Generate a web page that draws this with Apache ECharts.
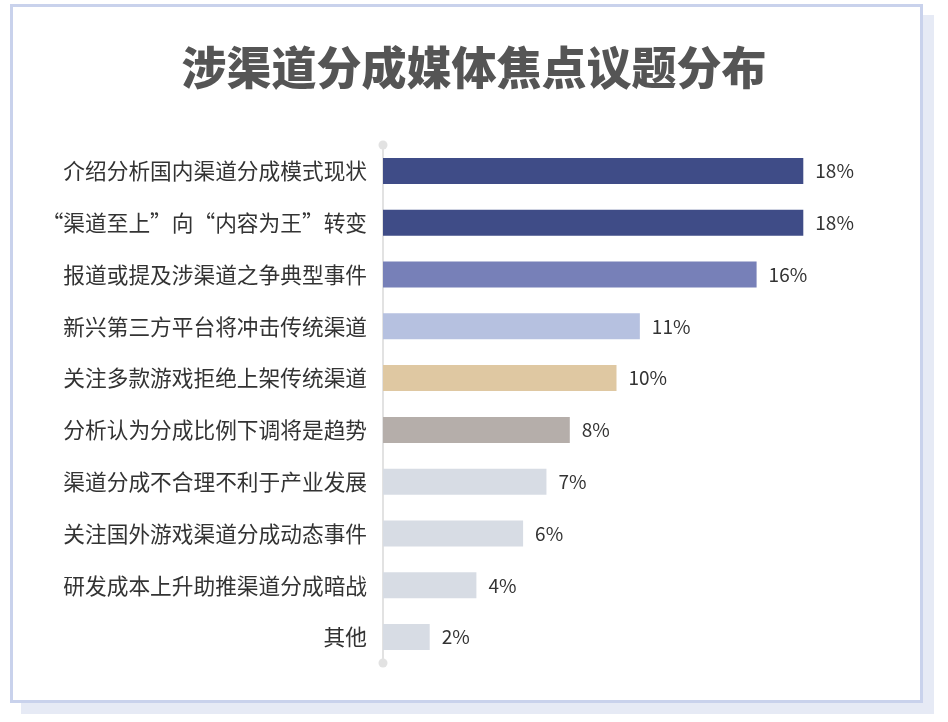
<!DOCTYPE html>
<html>
<head>
<meta charset="utf-8">
<script src="https://cdn.jsdelivr.net/npm/echarts@6/dist/echarts.min.js"></script>
<style>
  html, body { margin: 0; padding: 0; background: #fff; }
  #frame {
    position: absolute; left: 10px; top: 4px; width: 907px; height: 693px;
    border: 3px solid #c9d2ec; box-shadow: 11px 11px 0 #e6eaf5; background: #fff;
  }
  #chart { position: absolute; left: 0; top: 0; width: 948px; height: 722px; }
</style>
</head>
<body>
<div id="frame"></div>
<div id="chart"></div>
<script>
// data
var categories = [
  "介绍分析国内渠道分成模式现状",
  "“渠道至上”向“内容为王”转变",
  "报道或提及涉渠道之争典型事件",
  "新兴第三方平台将冲击传统渠道",
  "关注多款游戏拒绝上架传统渠道",
  "分析认为分成比例下调将是趋势",
  "渠道分成不合理不利于产业发展",
  "关注国外游戏渠道分成动态事件",
  "研发成本上升助推渠道分成暗战",
  "其他"
];
var values = [18, 18, 16, 11, 10, 8, 7, 6, 4, 2];

// colours, one per bar
var barColors = [
  "#3f4c87", "#3f4c87", "#7780b8", "#b6c1e0", "#dfc8a2",
  "#b5aeaa", "#d7dce4", "#d7dce4", "#d7dce4", "#d7dce4"
];

var myChart = echarts.init(document.getElementById('chart'));
option = {
  backgroundColor: "transparent",
  textStyle: { fontFamily: "Noto Sans CJK SC" },
  title: {
    text: "涉渠道分成媒体焦点议题分布",
    left: "center",
    top: 40,
    textStyle: {
      fontSize: 45,
      fontWeight: 900,
      color: "#555555",
      fontFamily: "Noto Sans CJK SC"
    }
  },
  grid: {
    left: 383,
    right: 98,
    top: 145,
    bottom: 59,
    containLabel: false
  },
  xAxis: {
    type: "value",
    min: 0,
    max: 20,
    show: false
  },
  yAxis: {
    type: "category",
    inverse: true,
    data: categories,
    axisLine: {
      show: true,
      symbol: ["circle", "circle"],
      symbolSize: [9, 9],
      lineStyle: { color: "#e2e2e2", width: 2 }
    },
    axisTick: { show: false },
    axisLabel: {
      margin: 16,
      fontSize: 21.7,
      color: "#333333",
      fontFamily: "Noto Sans CJK SC"
    }
  },
  series: [
    {
      type: "bar",
      data: values,
      barWidth: 26,
      itemStyle: {
        color: function (p) { return barColors[p.dataIndex]; }
      },
      label: {
        show: true,
        position: "right",
        distance: 12,
        formatter: "{c}%",
        fontSize: 19,
        color: "#333333",
        fontFamily: "Noto Sans CJK SC"
      }
    }
  ]
};

myChart.setOption(option);
</script>
</body>
</html>
